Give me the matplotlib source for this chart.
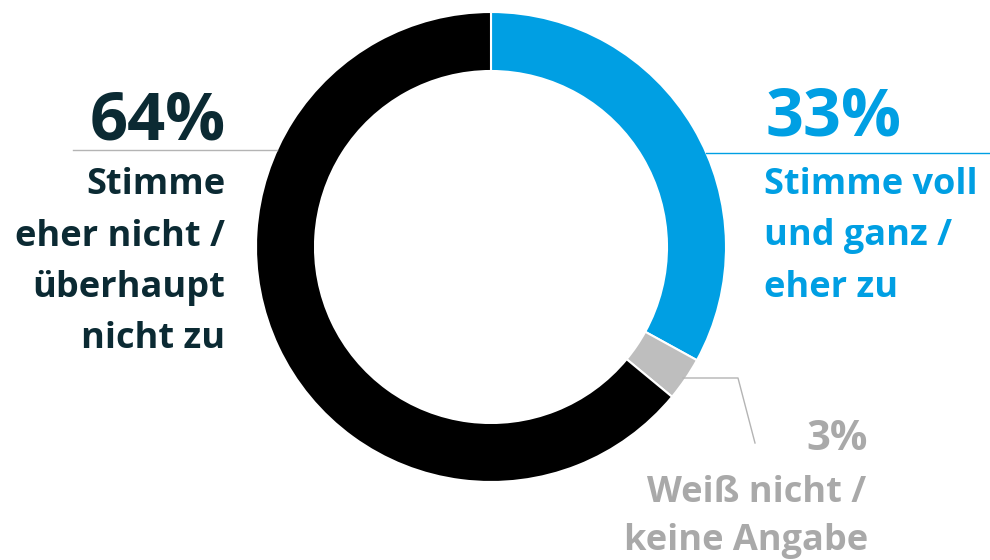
import matplotlib
matplotlib.use('Agg')
import matplotlib.pyplot as plt

# data
labels = ['Stimme voll und ganz / eher zu', 'Weiß nicht / keine Angabe',
          'Stimme eher nicht / überhaupt nicht zu']
values = [33, 3, 64]
colors = ['#009FE3', '#BEBEBE', '#000000']

DARK = '#0B2A33'
BLUE = '#009FE3'
GREY_TXT = '#A9A9A9'
LINE_GREY = '#B4B4B4'
H = 560


def Y(y):
    # pixel coordinate from the top -> data coordinate
    return H - y


fig = plt.figure(figsize=(9.9, 5.6), dpi=100)
ax = fig.add_axes([0, 0, 1, 1])

ax.pie(values, colors=colors, startangle=90, counterclock=False,
       radius=235, center=(491, Y(247)),
       wedgeprops=dict(width=59, edgecolor='white', linewidth=1.5))
ax.set_xlim(0, 990)
ax.set_ylim(0, H)
ax.set_aspect('equal')
ax.axis('off')

font = dict(family=['Open Sans', 'DejaVu Sans'], fontweight='bold')

# left label
ax.plot([73, 277], [Y(150), Y(150)], color=LINE_GREY, lw=1)
ax.text(226, Y(140), f'{values[2]}%', ha='right', va='baseline',
        fontsize=48, color=DARK, **font)
for i, line in enumerate(['Stimme', 'eher nicht /', 'überhaupt', 'nicht zu']):
    ax.text(225, Y(194 + 51.5 * i), line, ha='right', va='baseline',
            fontsize=26, color=DARK, **font)

# right label
ax.plot([706, 990], [Y(153), Y(153)], color=BLUE, lw=1)
ax.text(765, Y(136), f'{values[0]}%', ha='left', va='baseline',
        fontsize=48, color=BLUE, **font)
for i, line in enumerate(['Stimme voll', 'und ganz /', 'eher zu']):
    ax.text(764, Y(194 + 51.5 * i), line, ha='left', va='baseline',
            fontsize=26, color=BLUE, **font)

# small grey label
ax.plot([683, 738, 755], [Y(378), Y(378), Y(443)], color=LINE_GREY, lw=1)
ax.text(868, Y(450), f'{values[1]}%', ha='right', va='baseline',
        fontsize=30, color=GREY_TXT, **font)
ax.text(866, Y(502), 'Weiß nicht /', ha='right', va='baseline',
        fontsize=26, color=GREY_TXT, **font)
ax.text(868, Y(550), 'keine Angabe', ha='right', va='baseline',
        fontsize=26, color=GREY_TXT, **font)

fig.savefig('out.png', dpi=100)
